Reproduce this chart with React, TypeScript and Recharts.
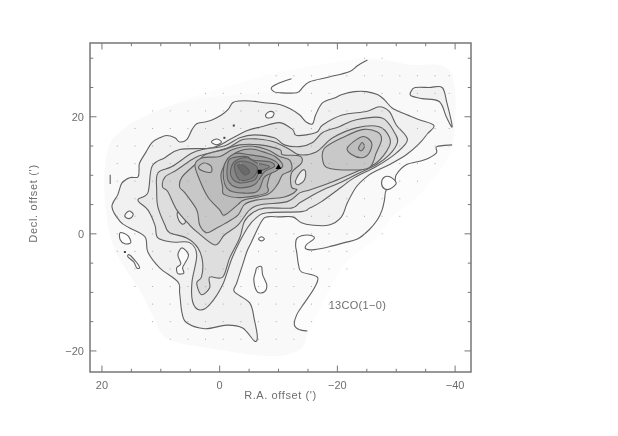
import React from "react";
import { ScatterChart, Scatter, XAxis, YAxis, ReferenceLine, ReferenceArea, ReferenceDot } from "recharts";

type Pair = [number, number];

const raDomain: Pair = [-42.7, 22.03];
const decDomain: Pair = [-23.6, 32.6];
const raLabels = [20, 0, -20, -40];
const decLabels = [20, 0, -20];
const raTicks = [20, 15, 10, 5, 0, -5, -10, -15, -20, -25, -30, -35, -40];
const decTicks = [30, 25, 20, 15, 10, 5, 0, -5, -10, -15, -20];

const envelope: Pair[] = [[19,14.4],[16.1,18.1],[10.2,21.2],[3.4,23.8],[-3.4,25.8],[-10.2,27.7],[-16.9,28.9],[-25.4,30.1],[-32.2,28.9],[-39.3,27.5],[-39.5,15],[-34.7,7.5],[-29.7,3.2],[-26.3,-1],[-21.2,-5.3],[-16.9,-13],[-14.9,-17.3],[-13.6,-19.8],[-8.5,-20.9],[0,-19.8],[8.5,-18.1],[11,-14.7],[13.6,-9.6],[17.8,-2.7],[19.5,5.8]];

const topLine: Pair[] = [[-25.1,29.7],[-23.4,28.7],[-22,27.7],[-18.6,26.8],[-15.3,26],[-14.1,25],[-13.1,24.1],[-10.2,24.1],[-9.2,24.3],[-8.8,25],[-10.2,25.8],[-12.2,26.5]];

const eastLine: Pair[] = [[-39.5,15.2],[-36.9,14.9],[-36.8,13.8],[-34.7,12.6],[-31.7,11.8],[-30,10.1],[-29.7,8.7],[-28.3,7.5],[-28,5.8],[-27.6,4.1],[-26.8,2.4],[-25.4,0.7],[-23.4,-0.9],[-21.2,-1.5],[-18.6,-2.2],[-16.1,-2.7],[-14.7,-2.6],[-14.7,-1.9],[-16.1,-0.7],[-14.9,-0.2],[-13.2,-0.7],[-12.9,-1.9],[-13.1,-3.2],[-13.4,-5.3],[-13.9,-6.5],[-16.6,-7.4],[-16.1,-9.2],[-14.4,-11.8],[-13.1,-13.8],[-12.7,-15.6],[-13.6,-16.4],[-14.9,-16.6]];

const bandA: Pair[] = [[-9.2,24.3],[-13.1,24.1],[-15.3,26],[-18.6,26.8],[-22,27.7],[-25.1,29.7],[-32.2,28.9],[-39.3,27.5],[-39.5,15.2],[-36.9,14.9],[-36.8,13.8],[-34.7,12.6],[-31.7,11.8],[-30,10.1],[-29.7,8.7],[-28.3,7.5],[-28,5.8],[-27.6,4.1],[-26.8,2.4],[-25.4,0.7],[-23.4,-0.9],[-21.2,-1.5],[-18.6,-2.2],[-16.1,-2.7],[-14.7,-2.6],[-14.7,-1.9],[-16.1,-0.7],[-14.9,-0.2],[-13.2,-0.7],[-12.9,-1.9],[-13.1,-3.2],[-13.4,-5.3],[-13.9,-6.5],[-16.6,-7.4],[-16.1,-9.2],[-14.4,-11.8],[-13.1,-13.8],[-12.7,-15.6],[-13.6,-16.4],[-14.9,-16.6],[-13.6,-19.8],[-8.5,-20.9],[0,-19.8],[8.5,-18.1],[11,-14.7],[13.6,-9.6],[17.8,-2.7],[19.5,5.8],[19,14.4],[16.1,18.1],[10.2,21.2],[3.4,23]];

const finger: Pair[] = [[-32.5,24.3],[-33.2,25],[-35.6,25],[-37.8,25],[-38.6,22.4],[-39.5,18.3],[-38.5,20],[-37.3,22.6],[-34.4,23.1],[-32.5,23.6]];

const levelB: Pair[] = [[18.3,4.6],[17.3,6.7],[16.6,8.7],[15.3,9.6],[13.9,9.7],[13.7,10.9],[13.6,12.1],[12.5,14],[11.5,15.6],[10.2,16.4],[9,16.8],[7.6,16.4],[6.8,15.7],[5.6,16.1],[4.7,17.8],[3.9,18.8],[2.5,19.1],[1.2,19.5],[-0.3,20.3],[-1.4,21.2],[-2.2,22.4],[-3.4,22.7],[-5.1,22.7],[-7.6,22.4],[-10.2,22.1],[-11.9,21.4],[-13.6,20.3],[-14.7,19.1],[-15.8,18.8],[-16.3,20.3],[-17.5,22.4],[-19.5,23.2],[-20.8,23.8],[-22.9,24.3],[-24.9,24.3],[-26.8,23.8],[-28,22.9],[-29.3,21.5],[-31.4,20.5],[-33.9,19.5],[-36.4,18.5],[-35.3,17.1],[-33.9,15.4],[-31.7,13.5],[-28.8,11.8],[-26.3,10.6],[-24.9,9.7],[-23.2,8],[-21.7,5.3],[-20.7,2.9],[-18.6,1.5],[-15.6,1.5],[-13.9,1.9],[-12.4,2.9],[-10.2,2.9],[-8.1,2.9],[-7.1,2.1],[-5.4,-1.4],[-4.6,-3.1],[-3.9,-5.3],[-2.9,-8.4],[-2.5,-9.9],[-5.1,-11.8],[-5.9,-14.7],[-6.4,-17.6],[-5.9,-18.3],[-3.9,-16.1],[-1.2,-15.6],[2.5,-16.2],[5.6,-15.2],[6.4,-13.5],[6.8,-10.1],[7.1,-8.2],[10.2,-5.8],[12.2,-3.1],[12.7,-0.5],[15.3,1],[16.9,2.1]];

const levelC: Pair[] = [[13.9,5.8],[12.2,7],[11.5,11.5],[9.3,13],[6.8,14.4],[1.2,14.7],[-1.7,16.1],[-4.6,17.6],[-7.1,18.3],[-10.2,19],[-12.4,17.8],[-13.1,16.8],[-16.4,17.3],[-17.5,18.6],[-20.8,20.3],[-24.9,20.9],[-27.1,21.7],[-28.8,20.9],[-30,18.6],[-31.9,16.1],[-30,13.8],[-26.6,11.5],[-22.9,9.6],[-20.7,8],[-17.3,5.5],[-15.3,4.4],[-13.9,3.8],[-8.1,3.6],[-6.4,2.9],[-4.7,1],[-2.2,-3.9],[-0.5,-8.7],[1.7,-12.1],[3.4,-13],[4.6,-11.6],[4.7,-8.2],[3.9,-3.6],[5.1,-1.5],[8,-1.4],[10.5,-0.7],[11,1.5],[12.2,4.1]];

const levelD: Pair[] = [[10.7,7.5],[10.5,10.4],[8.1,11.5],[4.7,13.8],[2.5,14.5],[-0.8,15],[-3.4,16.4],[-5.9,16.9],[-9.3,16.4],[-11,15.2],[-13.6,14.9],[-15.8,15.6],[-17.5,17.3],[-20.3,18.3],[-23.2,19.5],[-27.6,19.8],[-29.7,17.3],[-30.2,15.6],[-28.8,13.5],[-26.6,11.8],[-23.7,10.4],[-20.8,8.9],[-17.5,7.5],[-15.3,6.3],[-13.6,5.3],[-12.2,4.4],[-7.6,4.4],[-5.6,3.6],[-4.2,2.1],[-3.4,-0.7],[-1.7,-4.1],[-0.5,-7.4],[1.7,-7.4],[1.7,-9.2],[3.1,-10.4],[3.9,-8.4],[3.1,-7.4],[2.9,-4.8],[3.7,-2.4],[5.6,-0.7],[8.5,0.2],[9.3,1.5],[10.5,4.6]];

const levelE: Pair[] = [[9.7,8],[9.3,9.7],[7.3,10.9],[4.2,13],[1.7,13.8],[-1.4,14.7],[-3.9,16.1],[-6.4,16.2],[-9.3,15.7],[-11.9,14.4],[-13.6,13.5],[-16.4,14],[-19.2,16.4],[-23.2,18.1],[-27.1,18.3],[-28.8,16.6],[-28.8,14.9],[-26.6,12.1],[-23.2,10.6],[-19.2,8.9],[-15.3,7.5],[-13.6,7],[-11.5,5.5],[-7.1,5],[-5.1,4.1],[-3.1,1.5],[-0.8,-0.2],[0.8,-1.9],[3.7,0.2],[5.1,1.5],[7.3,4.1],[8.8,7.2]];

const levelF: Pair[] = [[6.8,8],[6.4,9.7],[3.9,12.1],[2.5,13.5],[-0.8,14.4],[-3.4,15.2],[-6.8,15.2],[-10.2,14.4],[-10.7,13.5],[-13.6,13.3],[-13.9,12.1],[-12.2,10.4],[-12.2,8],[-13.1,7.5],[-11,6.3],[-6.4,5.8],[-4.2,5],[-3.1,3.2],[-0.8,1.7],[0.5,1],[2.2,0.2],[3.4,1.5],[3.9,4.1],[5.9,7]];
const eastF: Pair[] = [[-17.5,14],[-18.1,14.9],[-20.8,16.4],[-24.2,17.8],[-26.8,17.4],[-27.5,16.1],[-26.6,13.8],[-25.4,11.3],[-22,10.9],[-18.3,11.3],[-17.5,12.6]];
const eastG: Pair[] = [[-21.7,14.7],[-24.2,16.6],[-25.8,15.6],[-25.4,13.8],[-24.2,13],[-22.5,13.5]];
const eastH: Pair[] = [[-23.7,14.9],[-24.2,15.6],[-24.6,14.9],[-24.1,14.2],[-23.6,14.5]];

const levelG: Pair[] = [[4.2,11.8],[2.9,13],[0,13.2],[-2.2,14.4],[-5.1,15],[-8,14.4],[-10.2,13.2],[-11.9,12.6],[-12.2,10.9],[-10.7,10.1],[-9.8,8.4],[-8.1,6.7],[-4.2,5.8],[-3.1,5],[-0.8,3.2],[0,4.1],[2,6.3],[3.4,9.2]];
const levelH: Pair[] = [[-0.3,10.6],[-2.2,13.5],[-5.1,14.5],[-8,13.8],[-9.7,13],[-10.7,11.5],[-8.8,10.4],[-8.1,8.4],[-8,7],[-3.9,6.2],[-0.8,6.7],[-0.5,8]];
const levelI: Pair[] = [[-0.8,11.8],[-2.5,13.7],[-5.1,13.5],[-8,13],[-9.8,12.1],[-9.8,10.9],[-7.6,9.7],[-6.3,7.2],[-2.2,7.2],[-0.8,8.7]];
const levelJ: Pair[] = [[-1.4,12.1],[-2.2,13],[-4.6,13.2],[-5.6,12.6],[-8.5,12.3],[-9.3,11.5],[-7.6,10.6],[-5.9,8.4],[-3.1,7.9],[-1.4,9.2]];
const levelK: Pair[] = [[-2,11.5],[-2.9,12.6],[-4.6,13],[-6.4,12.1],[-8.5,11.5],[-6.8,10.6],[-5.9,9.2],[-3.4,8.7],[-2,9.7]];
const levelL: Pair[] = [[-2.5,11.3],[-3.1,12.3],[-4.7,12.3],[-6.4,11.3],[-5.6,9.6],[-3.4,9.2]];
const levelM: Pair[] = [[-3.1,11.5],[-3.4,11.8],[-4.2,11.6],[-5.1,10.6],[-4.2,10.1]];

const holeEast: Pair[] = [[-27.5,8.7],[-28,9.7],[-29,9.7],[-30,8.7],[-29,7.7],[-28,7.7]];
const holeSouth: Pair[] = [[-6.3,-5.8],[-7.1,-5.6],[-7.3,-7],[-8,-8.7],[-7.6,-9.9],[-6.4,-9.9],[-5.8,-7.9],[-6.1,-6.5]];
const holeSmall: Pair[] = [[-6.6,-0.9],[-7.1,-0.5],[-7.6,-0.9],[-7.1,-1.2]];
const holeLow: Pair[] = [[0.3,-12.5],[-0.3,-11.8],[-1,-12.1],[-0.8,-13],[0,-13.2]];
const holeWest: Pair[] = [[16.9,0.2],[15.6,-0.3],[15.1,-1.5],[16.1,-1.7],[16.9,-1]];
const sliver: Pair[] = [[15.6,-3.9],[14.6,-4.8],[14.1,-5.8],[13.6,-5.8],[14.1,-4.9],[15.3,-3.6]];
const loopWest: Pair[] = [[16.1,3.2],[15.4,3.9],[14.7,3.4],[15.1,2.7],[15.8,2.7]];
const peanut: Pair[] = [[6.4,-2.4],[5.3,-3.6],[5.9,-5],[6.3,-5.8],[6.1,-6.7],[7.1,-6.8],[7.3,-5.8],[6.6,-5.1],[7.1,-3.6]];
const ovalMid: Pair[] = [[7.1,3.8],[6.3,3.8],[5.8,2.1],[6.4,1.7],[7.1,2.7]];
const holeRidge: Pair[] = [[-13.1,9.6],[-14.1,10.9],[-14.6,10.6],[-14.4,9.2],[-13.4,8.4],[-12.9,8.7]];
const loopCore: Pair[] = [[3.6,11.3],[2.7,12.1],[1.5,11.6],[1.4,10.6],[2.5,10.6]];
const diamond: Pair[] = [[1.4,15.7],[0.5,16.2],[-0.3,15.7],[0.5,15.2]];
const ringNorth: Pair[] = [[-7.8,20.3],[-8.5,20.9],[-9.2,20.7],[-9,20],[-8.1,19.8]];
const barWest: Pair[] = [[18.6,10.1],[18.6,8.5]];

const specks: Pair[] = [[16.1,-3.1],[-0.8,16.4],[-2.4,18.5]];
const squareMark: Pair[] = [[-6.8,10.6]];
const triangleMark: Pair[] = [[-10,11.4]];

const gridRa = [17.4,14.4,11.4,8.4,5.4,2.4,-0.6,-3.6,-6.6,-9.6,-12.6,-15.6,-18.6,-21.6,-24.6,-27.6,-30.6,-33.6,-36.6,-39];
const gridRows: [number, number, number][] = [[30,14,15],[27,9,19],[24,5,19],[21,2,19],[18,1,19],[15,0,19],[12,0,18],[9,0,17],[6,0,16],[3,0,16],[0,0,15],[-3,0,13],[-6,1,13],[-9,1,12],[-12,2,12],[-15,2,11],[-18,3,10]];

const toPts = (a: Pair[]) => a.map(([x, y]) => ({ x, y }));
const gridDots = gridRows.flatMap(([dec, a, b]) => gridRa.slice(a, b + 1).map((x) => ({ x, y: dec })));

function smooth(points: { x: number; y: number }[], closed: boolean): string {
  const n = points.length;
  const at = (i: number) => (closed ? points[(i + n) % n] : points[Math.max(0, Math.min(n - 1, i))]);
  let d = `M${points[0].x},${points[0].y}`;
  const last = closed ? n : n - 1;
  for (let i = 0; i < last; i++) {
    const p0 = at(i - 1), p1 = at(i), p2 = at(i + 1), p3 = at(i + 2);
    const c1x = p1.x + (p2.x - p0.x) / 6, c1y = p1.y + (p2.y - p0.y) / 6;
    const c2x = p2.x - (p3.x - p1.x) / 6, c2y = p2.y - (p3.y - p1.y) / 6;
    d += `C${c1x},${c1y} ${c2x},${c2y} ${p2.x},${p2.y}`;
  }
  return closed ? d + "Z" : d;
}

const INK = "#606060";
const noPoint = () => <g />;

function contour(key: string, data: Pair[], fill: string, stroke: string | null = INK, closed = true) {
  return (
    <Scatter
      key={key}
      data={toPts(data)}
      isAnimationActive={false}
      shape={noPoint}
      legendType="none"
      line={(p: any) => (
        <path d={smooth(p.points, closed)} fill={fill} stroke={stroke ?? "none"} strokeWidth={1.1} strokeLinejoin="round" />
      )}
    />
  );
}

const pixelDot = (size: number, color: string) => (p: any) => (
  <rect x={p.cx - size / 2} y={p.cy - size / 2} width={size} height={size} fill={color} />
);
const triangleShape = (p: any) => (
  <path d={`M${p.cx},${p.cy - 3}L${p.cx + 3},${p.cy + 2}L${p.cx - 3},${p.cy + 2}Z`} fill="#000" />
);

const GREY = "#777";
const tickStyle = { fontFamily: "Liberation Sans", fontSize: 11, fill: "#6e6e6e" };
const fmt = (v: number) => String(v).replace("-", "\u2212");

export default function App() {
  const [xLo, xHi] = raDomain;
  const [yLo, yHi] = decDomain;
  return (
    <div style={{ position: "absolute", left: 0, top: 0, background: "#fff", filter: "blur(0.45px)" }}>
      <ScatterChart width={618} height={436} margin={{ left: 40, right: 147, top: 43, bottom: 34 }}>
        <XAxis
          type="number"
          dataKey="x"
          reversed
          domain={raDomain}
          allowDataOverflow
          ticks={raLabels}
          tickFormatter={fmt}
          tickLine={false}
          axisLine={false}
          height={30}
          tick={tickStyle}
          tickMargin={3}
          label={{ value: "R.A. offset (')", position: "insideBottom", offset: 3, style: { ...tickStyle, fontSize: 11, letterSpacing: 0.6 } }}
        />
        <YAxis
          type="number"
          dataKey="y"
          domain={decDomain}
          allowDataOverflow
          ticks={decLabels}
          tickFormatter={fmt}
          tickLine={false}
          axisLine={false}
          width={50}
          tick={tickStyle}
          tickMargin={0}
          label={{ value: "Decl. offset (')", angle: -90, position: "insideLeft", dx: -12, dy: -4, style: { ...tickStyle, fontSize: 11, letterSpacing: 0.7, textAnchor: "middle" } }}
        />
        {contour("env", envelope, "#fcfcfc", null)}
        {contour("bandA", bandA, "#f9f9f9", null)}
        {contour("top", topLine, "none", INK, false)}
        {contour("east", eastLine, "none", INK, false)}
        {contour("finger", finger, "#f1f1f1")}
        {contour("holeSouth", holeSouth, "#fdfdfd")}
        {contour("holeSmall", holeSmall, "#fdfdfd")}
        {contour("holeEast", holeEast, "#fdfdfd")}
        {contour("holeLow", holeLow, "#fdfdfd")}
        {contour("holeWest", holeWest, "#fdfdfd")}
        {contour("sliver", sliver, "#fdfdfd")}
        {contour("bar", barWest, "none", INK, false)}
        {contour("B", levelB, "#f1f1f1")}
        {contour("loopWest", loopWest, "#f8f8f8")}
        {contour("diamond", diamond, "#fdfdfd")}
        {contour("ring", ringNorth, "#fdfdfd")}
        {contour("C", levelC, "#e8e8e8")}
        {contour("peanut", peanut, "#fbfbfb")}
        {contour("D", levelD, "#dedede")}
        {contour("oval", ovalMid, "#e8e8e8")}
        {contour("E", levelE, "#d3d3d3")}
        {contour("holeRidge", holeRidge, "#ececec")}
        {contour("F", levelF, "#c8c8c8")}
        {contour("eastF", eastF, "#c8c8c8")}
        {contour("eastG", eastG, "#bdbdbd")}
        {contour("eastH", eastH, "#b0b0b0")}
        {contour("G", levelG, "#bdbdbd")}
        {contour("loopCore", loopCore, "#c2c2c2")}
        {contour("H", levelH, "#b0b0b0")}
        {contour("I", levelI, "#a2a2a2")}
        {contour("J", levelJ, "#959595")}
        {contour("K", levelK, "#888888")}
        {contour("L", levelL, "#7a7a7a")}
        {contour("M", levelM, "#6a6a6a")}
        <Scatter data={gridDots} isAnimationActive={false} shape={pixelDot(1, "#aaaaaa")} legendType="none" />
        <Scatter data={toPts(specks)} isAnimationActive={false} shape={pixelDot(2, "#444")} legendType="none" />
        <Scatter data={toPts(squareMark)} isAnimationActive={false} shape={pixelDot(4, "#000")} legendType="none" />
        <Scatter data={toPts(triangleMark)} isAnimationActive={false} shape={triangleShape} legendType="none" />
        <ReferenceDot x={-23.4} y={-12.1} r={0} fill="none" stroke="none" label={{ value: "13CO(1\u22120)", position: "center", style: { ...tickStyle, fontSize: 11, letterSpacing: 0.3 } }} />
        {raTicks.flatMap((t) => {
          const len = t % 20 === 0 ? 1.1 : 0.55;
          return [
            <ReferenceLine key={`b${t}`} stroke={GREY} segment={[{ x: t, y: yLo }, { x: t, y: yLo + len }]} />,
            <ReferenceLine key={`t${t}`} stroke={GREY} segment={[{ x: t, y: yHi }, { x: t, y: yHi - len }]} />,
          ];
        })}
        {decTicks.flatMap((t) => {
          const len = t % 20 === 0 ? 1.1 : 0.55;
          return [
            <ReferenceLine key={`l${t}`} stroke={GREY} segment={[{ x: xHi, y: t }, { x: xHi - len, y: t }]} />,
            <ReferenceLine key={`r${t}`} stroke={GREY} segment={[{ x: xLo, y: t }, { x: xLo + len, y: t }]} />,
          ];
        })}
        <ReferenceArea x1={xLo} x2={xHi} y1={yLo} y2={yHi} fill="none" fillOpacity={0} stroke={GREY} strokeWidth={1.5} />
      </ScatterChart>
    </div>
  );
}
